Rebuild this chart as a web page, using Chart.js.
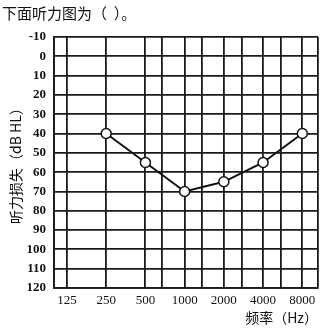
<!DOCTYPE html>
<html>
<head>
<meta charset="utf-8">
<script src="https://cdn.jsdelivr.net/npm/chart.js@4"></script>
<style>
  html, body { margin: 0; padding: 0; background: #fff; }
  #wrap { width: 326px; height: 328px; }
</style>
</head>
<body>
<div id="wrap"><canvas id="grafico" width="326" height="328"></canvas></div>
<script>
// frequências (Hz) e limiar em dB HL
const frequencias = ['125', '250', '500', '1000', '2000', '4000', '8000'];
const perdaAudicao = [null, 40, 55, 70, 65, 55, 40];
// linhas intermediárias da grade (entre 500/1000, 1000/2000, ...)
const linhasMeio = [2.42, 3.44, 4.45, 5.45];
const yTicks = { min: -10, max: 120, passo: 10 };

const xMin = -0.33, xMax = 6.4;

function criarGrafico() {
    const ctx = document.getElementById('grafico');
    const pontos = perdaAudicao
        .map((v, i) => ({ x: i, y: v }))
        .filter(p => p.y !== null);

    new Chart(ctx, {
        type: 'line',
        data: {
            datasets: [{
                data: pontos,
                borderColor: '#111',
                borderWidth: 2,
                backgroundColor: '#fff',
                pointBackgroundColor: '#fff',
                pointBorderColor: '#111',
                pointBorderWidth: 1.5,
                pointRadius: 5,
                tension: 0
            }]
        },
        options: {
            responsive: false,
            animation: false,
            layout: { padding: { left: 2, right: 8, top: 0, bottom: 0 } },
            plugins: {
                legend: { display: false },
                tooltip: { enabled: false },
                title: {
                    display: true,
                    text: '下面听力图为（  ）。',
                    align: 'start',
                    color: '#111',
                    font: { family: '"Noto Sans CJK SC"', size: 15, weight: 'normal' },
                    padding: { top: 4, bottom: 15 }
                }
            },
            scales: {
                x: {
                    type: 'linear',
                    min: xMin,
                    max: xMax,
                    afterBuildTicks: function(scale) {
                        const vals = [xMin];
                        frequencias.forEach((f, i) => vals.push(i));
                        linhasMeio.forEach(v => vals.push(v));
                        vals.push(xMax);
                        vals.sort((a, b) => a - b);
                        scale.ticks = vals.map(v => ({ value: v }));
                    },
                    afterFit: function(scale) { scale.height = 40; },
                    grid: { color: '#1a1a1a', lineWidth: 1.8, drawTicks: false },
                    border: { color: '#1a1a1a', width: 1.8 },
                    ticks: {
                        autoSkip: false,
                        maxRotation: 0,
                        padding: 5,
                        color: '#111',
                        font: { family: '"Liberation Serif"', size: 13 },
                        callback: function(value) {
                            return Number.isInteger(value) ? frequencias[value] : '';
                        }
                    },
                    title: {
                        display: true,
                        text: '频率（Hz）',
                        align: 'end',
                        color: '#111',
                        font: { family: '"Noto Sans CJK SC"', size: 14 },
                        padding: { top: 0, bottom: 2 }
                    }
                },
                y: {
                    reverse: true,
                    min: yTicks.min,
                    max: yTicks.max,
                    afterFit: function(scale) { scale.width = 52; },
                    grid: { color: '#1a1a1a', lineWidth: 1.8, drawTicks: false },
                    border: { color: '#1a1a1a', width: 1.8 },
                    ticks: {
                        stepSize: yTicks.passo,
                        padding: 8,
                        color: '#111',
                        font: { family: '"Liberation Serif"', size: 13, weight: 'bold' }
                    },
                    title: {
                        display: true,
                        text: '听力损失（dB HL）',
                        color: '#111',
                        font: { family: '"Noto Sans CJK SC"', size: 14 },
                        padding: { top: 5, bottom: 0 }
                    }
                }
            }
        }
    });
}

window.onload = function() {
    criarGrafico();
};
</script>
</body>
</html>
